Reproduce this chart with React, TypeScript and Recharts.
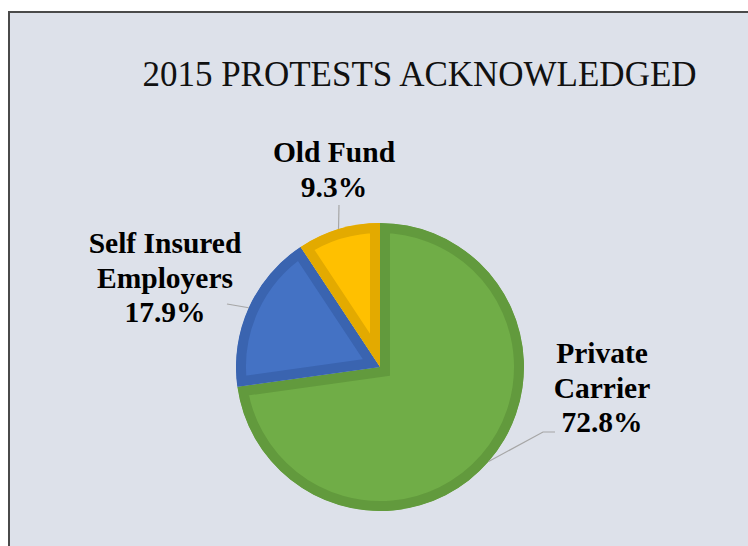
import React from "react";
import { PieChart, Pie, Cell, Sector, Tooltip } from "recharts";

const categories = ["Private Carrier", "Self Insured Employers", "Old Fund"];
const shares = [72.8, 17.9, 9.3];
const labelLines: Record<string, string[]> = {
  "Private Carrier": ["Private", "Carrier"],
  "Self Insured Employers": ["Self Insured", "Employers"],
  "Old Fund": ["Old Fund"],
};

const fills = ["#70ad47", "#4472c4", "#ffc000"];
const edges = ["#629a3d", "#3a64b0", "#e3aa00"];

// where each label sits relative to the pie centre (hand placed, like excel's best fit)
const labelPos: Record<string, { dx: number; dy: number; line: [number, number][] }> = {
  "Private Carrier": { dx: 222, dy: -4, line: [[163, 65], [175, 65]] },
  "Self Insured Employers": { dx: -215, dy: -114, line: [[-153, -63]] },
  "Old Fund": { dx: -46, dy: -205, line: [[-41, -162]] },
};

const data = categories.map((name, i) => ({ name, value: shares[i] }));

const renderSlice = (props: any) => {
  const { cx, cy, innerRadius, outerRadius, startAngle, endAngle, name } = props;
  const i = categories.indexOf(name);
  const id = "clip-" + String(name).replace(/\s/g, "");
  return (
    <g>
      <defs>
        <clipPath id={id}>
          <Sector cx={cx} cy={cy} innerRadius={innerRadius} outerRadius={outerRadius} startAngle={startAngle} endAngle={endAngle} />
        </clipPath>
      </defs>
      <Sector
        cx={cx}
        cy={cy}
        innerRadius={innerRadius}
        outerRadius={outerRadius}
        startAngle={startAngle}
        endAngle={endAngle}
        fill={fills[i]}
        stroke={edges[i]}
        strokeWidth={20}
        strokeLinejoin="miter"
        clipPath={`url(#${id})`}
      />
    </g>
  );
};

const renderLabel = (props: any) => {
  const { cx, cy, name, value } = props;
  const pos = labelPos[name];
  const lines = [...labelLines[name], `${Number(value).toFixed(1)}%`];
  return (
    <text
      x={cx + pos.dx}
      y={cy + pos.dy}
      textAnchor="middle"
      fill="#000"
      style={{ fontFamily: "'Liberation Serif', 'Times New Roman', serif", fontSize: 29.5, fontWeight: 700 }}
    >
      {lines.map((t, k) => (
        <tspan key={k} x={cx + pos.dx} dy={k === 0 ? 0 : 34.5}>
          {t}
        </tspan>
      ))}
    </text>
  );
};

const renderLine = (props: any) => {
  const { points, payload, cx, cy } = props;
  const name = payload?.name ?? props.name;
  const pos = labelPos[name];
  const start = points[0];
  const pts = [[start.x, start.y], ...pos.line.map(([x, y]) => [cx + x, cy + y])];
  return <polyline points={pts.map((p) => p.join(",")).join(" ")} fill="none" stroke="#a6a6a6" strokeWidth={1.2} />;
};

export default function App() {
  return (
    <div style={{ position: "fixed", left: 0, top: 0, width: 748, height: 546, background: "#fff", overflow: "hidden" }}>
      <div
        style={{
          position: "absolute",
          left: 8,
          top: 11,
          width: 760,
          height: 560,
          background: "#dde1ea",
          borderLeft: "2px solid #4a4a4a",
          borderTop: "2px solid #4a4a4a",
        }}
      />
      <div
        style={{
          position: "absolute",
          left: 0,
          top: 55,
          width: 839,
          textAlign: "center",
          fontFamily: "'Liberation Serif', 'Times New Roman', serif",
          fontSize: 35,
          lineHeight: "40px",
          color: "#111",
          whiteSpace: "nowrap",
        }}
      >
        2015 PROTESTS ACKNOWLEDGED
      </div>
      <div style={{ position: "absolute", left: 0, top: 0 }}>
        <PieChart width={748} height={546} margin={{ top: 0, right: 0, bottom: 0, left: 0 }}>
          <Pie
            data={data}
            dataKey="value"
            nameKey="name"
            cx={380}
            cy={367}
            outerRadius={144}
            startAngle={90}
            endAngle={-270}
            isAnimationActive={false}
            shape={renderSlice}
            activeShape={renderSlice}
            inactiveShape={renderSlice}
            label={renderLabel}
            labelLine={renderLine}
          >
            {data.map((d, i) => (
              <Cell key={d.name} fill={fills[i]} stroke={edges[i]} />
            ))}
          </Pie>
          <Tooltip defaultIndex={0} content={() => null} cursor={false} />
        </PieChart>
      </div>
    </div>
  );
}
